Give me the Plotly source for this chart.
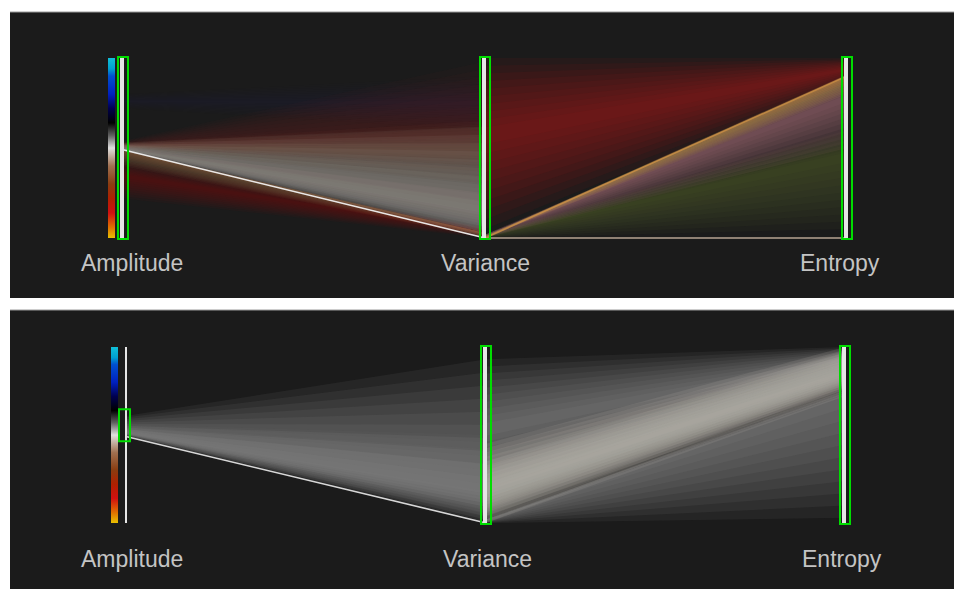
import plotly.graph_objects as go

W, H = 954, 589

# Axis names
dims = ["Amplitude", "Variance", "Entropy"]

# Amplitude colour scale (0 = bottom of the axis, 1 = top)
amp_scale = [
    [0.00, "#e8c000"], [0.06, "#e07000"], [0.14, "#d01010"], [0.22, "#b02000"],
    [0.30, "#8a3c10"], [0.40, "#a07050"], [0.50, "#e0e0e0"], [0.57, "#606060"],
    [0.64, "#000000"], [0.72, "#000050"], [0.80, "#0020c0"], [0.90, "#0050d0"],
    [0.94, "#00a0d0"], [1.00, "#10c0d8"],
]

# ---- top view: all records, coloured by amplitude ----
# line bundles between Amplitude and Variance: (amp_lo, amp_hi, var_lo, var_hi)
top_av_bundles = [
    (0.22, 0.43, 0.00, 0.06),
    (0.50, 0.54, 0.40, 0.98),
    (0.49, 0.53, 0.30, 0.65),
    (0.48, 0.53, 0.00, 0.62),
    (0.485, 0.52, 0.00, 0.40),
    (0.40, 0.49, 0.00, 0.03),
    (0.72, 0.80, 0.60, 0.90),
]
# style per bundle: colour, peak opacity, where the strands are densest (0 = low end)
top_av_style = [
    ((140, 25, 20), 0.45, 0.60),
    ((140, 40, 35), 0.35, 0.30),
    ((140, 100, 80), 0.35, 0.50),
    ((170, 165, 155), 0.60, 0.25),
    ((165, 162, 155), 0.40, 0.20),
    ((180, 120, 70), 0.50, 0.90),
    ((50, 50, 110), 0.15, 0.50),
]
# line bundles between Variance and Entropy: (var_lo, var_hi, ent_lo, ent_hi)
top_ve_bundles = [
    (0.05, 1.00, 0.86, 1.00),
    (0.00, 0.02, 0.05, 0.60),
    (0.00, 0.02, 0.50, 0.88),
    (0.00, 0.01, 0.80, 0.91),
]
top_ve_style = [
    ((165, 30, 30), 0.58, 0.55),
    ((95, 105, 45), 0.48, 0.75),
    ((175, 120, 130), 0.60, 0.75),
    ((210, 160, 85), 0.65, 0.85),
]
# individual records drawn as lines: (amplitude, variance, entropy)
top_lines = [
    (0.49, 0.00, 0.00),
    (None, 0.00, 0.90),
]
top_line_style = [("rgba(240,240,240,0.95)", "rgba(200,180,160,0.9)"),
                  (None, "rgba(205,145,70,0.8)")]

# ---- bottom view: records inside the amplitude brush ----
bot_av_bundles = [
    (0.49, 0.61, 0.00, 0.93),
    (0.49, 0.56, 0.00, 0.50),
]
bot_av_style = [
    ((170, 170, 170), 0.58, 0.20),
    ((175, 175, 175), 0.25, 0.20),
]
bot_ve_bundles = [
    (0.20, 0.93, 0.88, 1.00),
    (0.00, 0.02, 0.03, 0.76),
    (0.00, 0.45, 0.72, 1.00),
    (0.00, 0.35, 0.76, 0.98),
]
bot_ve_style = [
    ((160, 160, 160), 0.55, 0.45),
    ((160, 160, 160), 0.55, 0.95),
    ((185, 180, 175), 0.80, 0.45),
    ((180, 176, 170), 0.70, 0.50),
]
bot_lines = [(0.49, 0.00, None)]
bot_line_style = [("rgba(225,225,225,0.95)", None)]

# brushed ranges on each axis
top_brush = [(0.0, 1.0), (0.0, 1.0), (0.0, 1.0)]
bot_brush = [(0.47, 0.64), (0.0, 1.0), (0.0, 1.0)]

# ---- layout geometry (pixels) ----
panels = {
    "top": dict(x0=123, unit_x=362, y0=238, unit_y=180, top=12, bottom=298,
                label_y=263, label_dx=[9, 0, -7], cbar_x=108),
    "bot": dict(x0=127, unit_x=359, y0=523, unit_y=176, top=310, bottom=589,
                label_y=559, label_dx=[5, 1, -3], cbar_x=111),
}
FEATHER = 10  # nested layers used to soften each bundle

fig = go.Figure()


def band_traces(bundles, styles, xa, xref, yref):
    for (flo, fhi, tlo, thi), (rgb, peak, dense) in zip(bundles, styles):
        fcore = flo + dense * (fhi - flo)
        tcore = tlo + dense * (thi - tlo)
        a = 1 - (1 - peak) ** (1.0 / FEATHER)
        for j in range(FEATHER):
            s = j / FEATHER
            f0, f1 = flo + (fcore - flo) * s, fhi - (fhi - fcore) * s
            t0, t1 = tlo + (tcore - tlo) * s, thi - (thi - tcore) * s
            fig.add_trace(go.Scatter(
                x=[xa, xa + 1, xa + 1, xa, xa], y=[f0, t0, t1, f1, f0],
                mode="lines", fill="toself", line=dict(width=0),
                fillcolor="rgba(%d,%d,%d,%.3f)" % (rgb + (a,)),
                hoverinfo="skip", showlegend=False, xaxis=xref, yaxis=yref))


def line_traces(lines, styles, xref, yref, width):
    for rec, sty in zip(lines, styles):
        for i in range(2):
            if rec[i] is None or rec[i + 1] is None or sty[i] is None:
                continue
            fig.add_trace(go.Scatter(
                x=[i, i + 1], y=[rec[i], rec[i + 1]], mode="lines",
                line=dict(color=sty[i], width=width), hoverinfo="skip",
                showlegend=False, xaxis=xref, yaxis=yref))


band_traces(top_av_bundles, top_av_style, 0, "x", "y")
band_traces(top_ve_bundles, top_ve_style, 1, "x", "y")
line_traces(top_lines, top_line_style, "x", "y", 1.6)
band_traces(bot_av_bundles, bot_av_style, 0, "x2", "y2")
band_traces(bot_ve_bundles, bot_ve_style, 1, "x2", "y2")
line_traces(bot_lines, bot_line_style, "x2", "y2", 1.6)

shapes = []
annotations = []
for key, xr, yr in (("top", "x", "y"), ("bot", "x2", "y2")):
    p = panels[key]
    # dark panel
    shapes.append(dict(type="rect", xref="paper", yref="paper", layer="below",
                       x0=10 / W, x1=1, y0=1 - p["bottom"] / H, y1=1 - p["top"] / H,
                       fillcolor="#1b1b1b", line=dict(width=0)))
    shapes.append(dict(type="line", xref="paper", yref="paper", layer="below",
                       x0=10 / W, x1=1, y0=1 - p["top"] / H, y1=1 - p["top"] / H,
                       line=dict(color="#9a9a9a", width=1)))
    dx = 1.0 / p["unit_x"]
    dy = 1.0 / p["unit_y"]
    brush = top_brush if key == "top" else bot_brush
    for i, name in enumerate(dims):
        # axis bar
        w_axis = 4 if (key == "top" or i > 0) else 2
        shapes.append(dict(type="line", xref=xr, yref=yr, x0=i - dx, x1=i - dx,
                           y0=0, y1=1, line=dict(color="#e6e6e6", width=w_axis)))
        lo, hi = brush[i]
        left, right = (8, 3) if (key == "bot" and i == 0) else (5, 5)
        shapes.append(dict(type="rect", xref=xr, yref=yr,
                           x0=i - left * dx, x1=i + right * dx,
                           y0=lo - 1 * dy, y1=hi + 1 * dy,
                           line=dict(color="#00dd00", width=2),
                           fillcolor="rgba(0,0,0,0)"))
        annotations.append(dict(
            x=i, y=(p["y0"] - p["label_y"]) / p["unit_y"], xref=xr, yref=yr,
            xshift=p["label_dx"][i], text=name, showarrow=False,
            xanchor="center", yanchor="middle",
            font=dict(family="Liberation Sans, Arial, sans-serif", size=23,
                      color="#c4c4c4")))
    # amplitude colour bar
    fig.add_trace(go.Scatter(
        x=[0, 0], y=[0, 1], mode="markers", xaxis=xr, yaxis=yr,
        marker=dict(size=1, opacity=0, color=[0, 1], colorscale=amp_scale,
                    cmin=0, cmax=1, showscale=True,
                    colorbar=dict(x=p["cbar_x"] / W, xanchor="left",
                                  y=1 - (p["y0"] - p["unit_y"] / 2) / H,
                                  yanchor="middle", len=p["unit_y"],
                                  lenmode="pixels", thickness=7,
                                  thicknessmode="pixels", outlinewidth=0,
                                  xpad=0, ypad=0, showticklabels=False,
                                  ticks="")),
        hoverinfo="skip", showlegend=False))

tp, bp = panels["top"], panels["bot"]
ax_common = dict(showgrid=False, zeroline=False, showticklabels=False,
                 showline=False, ticks="", fixedrange=True)
fig.update_layout(
    width=W, height=H, margin=dict(l=0, r=0, t=0, b=0, pad=0),
    paper_bgcolor="white", plot_bgcolor="rgba(0,0,0,0)",
    xaxis=dict(domain=[0, 1], range=[-tp["x0"] / tp["unit_x"], (W - tp["x0"]) / tp["unit_x"]],
               anchor="y", **ax_common),
    yaxis=dict(domain=[1 - tp["bottom"] / H, 1 - tp["top"] / H],
               range=[(tp["y0"] - tp["bottom"]) / tp["unit_y"], (tp["y0"] - tp["top"]) / tp["unit_y"]],
               anchor="x", **ax_common),
    xaxis2=dict(domain=[0, 1], range=[-bp["x0"] / bp["unit_x"], (W - bp["x0"]) / bp["unit_x"]],
                anchor="y2", **ax_common),
    yaxis2=dict(domain=[0, 1 - bp["top"] / H],
                range=[(bp["y0"] - bp["bottom"]) / bp["unit_y"], (bp["y0"] - bp["top"]) / bp["unit_y"]],
                anchor="x2", **ax_common),
    shapes=shapes, annotations=annotations, showlegend=False,
)

fig.write_html("out.html")
